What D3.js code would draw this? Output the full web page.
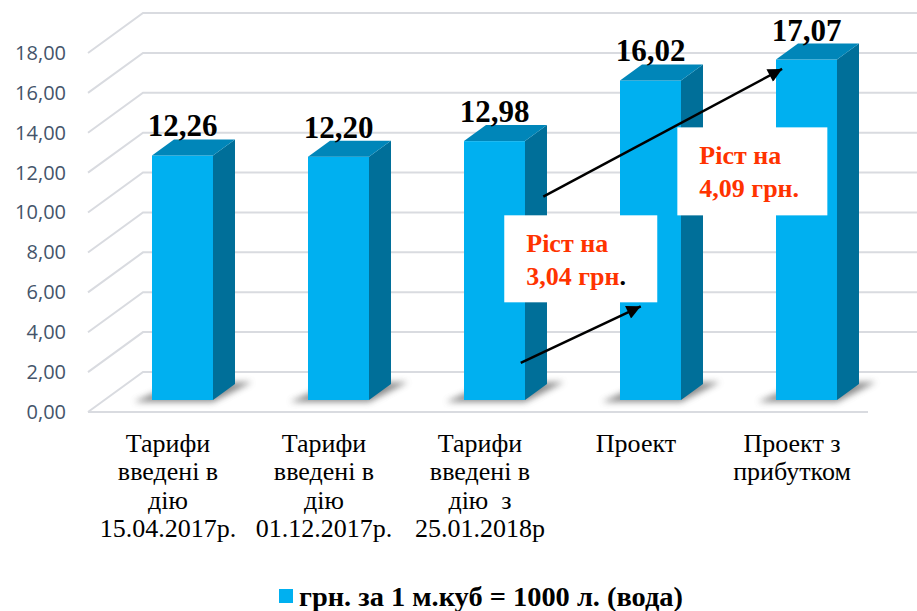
<!DOCTYPE html>
<html>
<head>
<meta charset="utf-8">
<script src="https://cdnjs.cloudflare.com/ajax/libs/d3/7.8.5/d3.min.js"></script>
<style>
    body { margin: 0; background: #fff; }
    svg { display: block; }
</style>
</head>
<body>
<div id="chart"></div>
<script>
// data
var categories = ["t1", "t2", "t3", "p1", "p2"];
var categoryLines = [
    ["Тарифи", "введені в", "дію", "15.04.2017р."],
    ["Тарифи", "введені в", "дію", "01.12.2017р."],
    ["Тарифи", "введені в", "дію  з", "25.01.2018р"],
    ["Проект"],
    ["Проект з", "прибутком"]
];
var values = [12.26, 12.20, 12.98, 16.02, 17.07];
var yTicks = [0, 2, 4, 6, 8, 10, 12, 14, 16, 18];
var seriesName = "грн. за 1 м.куб = 1000 л. (вода)";
var noteLines = [["Ріст на", "3,04 грн"], ["Ріст на", "4,09 грн."]];

var width = 917, height = 611;
var depthX = 55, depthY = -40;          // full depth of the 3d box
var barDepth = 0.4, barFront = 0.3;     // bar placed in the middle of the depth
var colFront = "#00b0f0", colSide = "#006f99", colTop = "#0086b9";
var gridColor = "#d9dbe0";
var serif = "'Liberation Serif', 'Times New Roman', serif";

var svg = d3.select("#chart").append("svg")
    .attr("width", width).attr("height", height);

var defs = svg.append("defs");
defs.append("filter").attr("id", "blur")
    .attr("x", "-50%").attr("y", "-50%").attr("width", "200%").attr("height", "200%")
    .append("feGaussianBlur").attr("stdDeviation", 3);
defs.append("marker").attr("id", "arrow")
    .attr("viewBox", "0 0 10 10").attr("refX", 10).attr("refY", 5)
    .attr("markerUnits", "userSpaceOnUse")
    .attr("markerWidth", 16).attr("markerHeight", 14)
    .attr("orient", "auto")
    .append("path").attr("d", "M0,0 L10,5 L0,10 Z").attr("fill", "#000");

var y = d3.scaleLinear().domain([0, 18]).range([412, 53]);
var x = d3.scaleBand().domain(categories).range([88, 868])
    .paddingInner(0.609).paddingOuter(0.3045);

// offset of the bar front plane
var fx = depthX * barFront, fy = depthY * barFront;
var bx = depthX * barDepth, by = depthY * barDepth;
var bw = x.bandwidth();

function yb(v) { return y(v) + fy; }
function xb(c) { return x(c) + fx; }

// grid: left wall diagonals + back wall lines
var grid = svg.append("g");
yTicks.forEach(function (t) {
    grid.append("path")
        .attr("d", "M88," + y(t) + "L" + (88 + depthX) + "," + (y(t) + depthY) + "L" + width + "," + (y(t) + depthY))
        .attr("fill", "none").attr("stroke", gridColor).attr("stroke-width", 2);
});
grid.append("line")
    .attr("x1", 88).attr("x2", 868).attr("y1", y(0)).attr("y2", y(0))
    .attr("stroke", gridColor).attr("stroke-width", 2);

// y axis
var yAxis = d3.axisLeft(y).tickValues(yTicks).tickSize(0).tickPadding(22)
    .tickFormat(function (d) { return d.toFixed(2).replace(".", ","); });
var ax = svg.append("g").attr("transform", "translate(88,0)").call(yAxis);
ax.select(".domain").remove();
ax.selectAll("text")
    .attr("font-family", "'Open Sans', sans-serif")
    .attr("font-size", 20)
    .attr("fill", "#44546a");

// bars
var bars = svg.selectAll(".bar").data(values).enter().append("g").attr("class", "bar");

bars.append("path")
    .attr("d", function (d, i) {
        var x0 = xb(categories[i]), y0 = yb(0);
        return "M" + (x0 - 18) + "," + (y0 + 2) + "L" + (x0 + bw) + "," + (y0 + 2) +
            "L" + (x0 + bw + bx + 17) + "," + (y0 + by - 2) + "L" + (x0 + bx) + "," + (y0 + by) + "Z";
    })
    .attr("fill", "#666").attr("opacity", 0.75).attr("filter", "url(#blur)");

bars.append("rect")
    .attr("x", function (d, i) { return xb(categories[i]); })
    .attr("y", function (d) { return yb(d); })
    .attr("width", bw)
    .attr("height", function (d) { return yb(0) - yb(d); })
    .attr("fill", colFront);

bars.append("path")
    .attr("d", function (d, i) {
        var x1 = xb(categories[i]) + bw;
        return "M" + x1 + "," + yb(d) + "L" + (x1 + bx) + "," + (yb(d) + by) +
            "L" + (x1 + bx) + "," + (yb(0) + by) + "L" + x1 + "," + yb(0) + "Z";
    })
    .attr("fill", colSide);

bars.append("path")
    .attr("d", function (d, i) {
        var x0 = xb(categories[i]);
        return "M" + x0 + "," + yb(d) + "L" + (x0 + bx) + "," + (yb(d) + by) +
            "L" + (x0 + bw + bx) + "," + (yb(d) + by) + "L" + (x0 + bw) + "," + yb(d) + "Z";
    })
    .attr("fill", colTop);

bars.append("text")
    .attr("x", function (d, i) { return xb(categories[i]) + bw / 2; })
    .attr("y", function (d) { return yb(d) - 19; })
    .attr("text-anchor", "middle")
    .attr("font-family", serif)
    .attr("font-weight", "bold")
    .attr("font-size", 31)
    .text(function (d) { return d.toFixed(2).replace(".", ","); });

// category labels
var cats = svg.selectAll(".cat").data(categoryLines).enter().append("text")
    .attr("class", "cat")
    .attr("text-anchor", "middle")
    .attr("font-family", serif)
    .attr("font-size", 26)
    .attr("fill", "#000")
    .style("white-space", "pre");
cats.selectAll("tspan").data(function (d, i) {
    return d.map(function (l) { return { line: l, c: categories[i] }; });
}).enter().append("tspan")
    .attr("x", function (d) { return x(d.c) + bw / 2 + 2; })
    .attr("y", function (d, j) { return 452 + j * 28.3; })
    .text(function (d) { return d.line; });

// annotations: white boxes, arrows
function pt(i, fr, v) {
    return [xb(categories[i]) + bw * fr, yb(v)];
}
var boxes = [
    { x: pt(2, 0.66, 0)[0], y: yb(9.26), w: 153, h: 87 },
    { x: pt(3, 0.94, 0)[0], y: yb(13.67), w: 150, h: 88 }
];
var arrows = [
    { from: pt(2, 0.93, 1.86), to: pt(3, 0.34, 4.7) },
    { from: pt(2, 1.3, 10.2), to: pt(4, 0.1, 16.6) }
];

var notes = svg.append("g");
boxes.forEach(function (b, k) {
    notes.append("rect").attr("x", b.x).attr("y", b.y).attr("width", b.w).attr("height", b.h)
        .attr("fill", "#fff");
    var t = notes.append("text")
        .attr("font-family", serif)
        .attr("font-weight", "bold").attr("font-size", 26).attr("fill", "#ff3300");
    noteLines[k].forEach(function (l, j) {
        t.append("tspan").attr("x", b.x + 22).attr("y", b.y + 37 + j * 33).text(l);
    });
    if (k === 0) t.append("tspan").attr("fill", "#000").text(".");
});

arrows.forEach(function (a) {
    notes.append("line")
        .attr("x1", a.from[0]).attr("y1", a.from[1])
        .attr("x2", a.to[0]).attr("y2", a.to[1])
        .attr("stroke", "#000").attr("stroke-width", 2.5)
        .attr("marker-end", "url(#arrow)");
});

// legend
var legend = svg.append("g");
legend.append("rect").attr("x", 279).attr("y", 589).attr("width", 14).attr("height", 14)
    .attr("fill", colFront);
legend.append("text").attr("x", 299).attr("y", 606)
    .attr("font-family", serif)
    .attr("font-weight", "bold").attr("font-size", 27)
    .attr("textLength", 384).attr("lengthAdjust", "spacingAndGlyphs")
    .text(seriesName);
</script>
</body>
</html>
